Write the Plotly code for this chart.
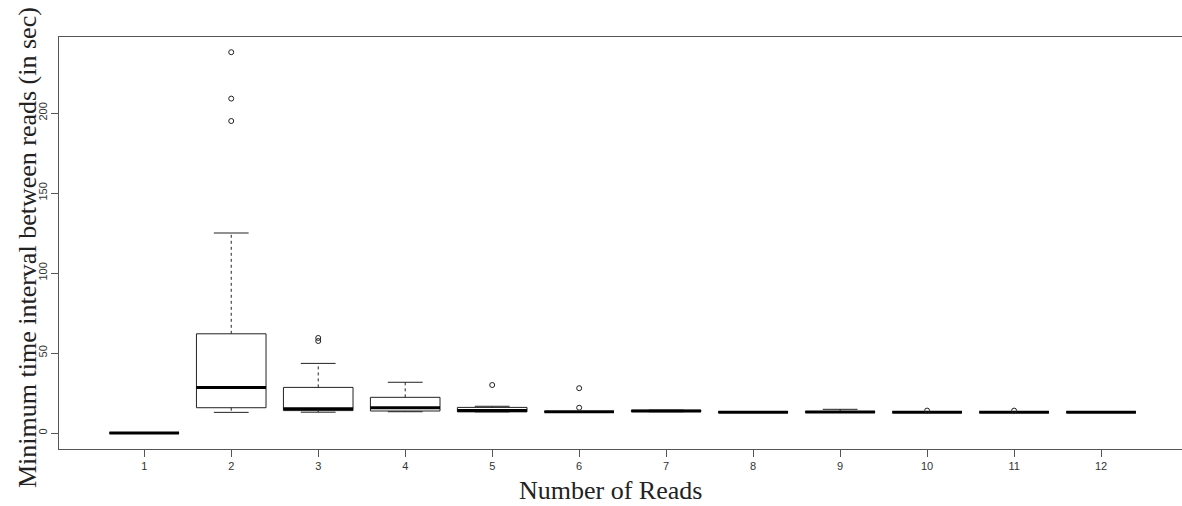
import plotly.graph_objects as go

# ---- data ----
reads = [1, 2, 3, 4, 5, 6, 7, 8, 9, 10, 11, 12]
q1 = [0, 15.8, 14.0, 13.75, 13.2, 13.3, 13.4, 13.0, 13.0, 13.0, 13.0, 13.0]
median = [0, 28.5, 15.2, 15.8, 14.0, 13.3, 13.8, 13.0, 13.2, 13.0, 13.0, 13.0]
q3 = [0, 62.0, 28.5, 22.3, 16.0, 13.3, 14.2, 13.3, 13.4, 13.0, 13.0, 13.0]
lower_whisker = [0, 12.9, 13.0, 13.3, 13.2, 13.3, 13.3, 13.0, 13.0, 13.0, 13.0, 13.0]
upper_whisker = [0, 125.0, 43.5, 31.7, 16.7, 13.3, 14.3, 13.3, 14.8, 13.0, 13.0, 13.0]
outlier_x = [2, 2, 2, 3, 3, 5, 6, 6, 10, 11]
outlier_y = [238, 209, 195, 59.4, 57.5, 30, 28, 15.8, 14.0, 14.0]

x_title = "Number of Reads"
y_title = "Minimum time interval between reads (in sec)"
y_ticks = [0, 50, 100, 150, 200]

BOXW = 0.8
STAPLE = BOXW * 0.25
INK = "#222222"
AXIS = "#555555"

fig = go.Figure()

# box bodies
fig.add_trace(go.Box(
    x=reads, q1=q1, median=median, q3=q3,
    lowerfence=q1, upperfence=q3,
    width=BOXW, whiskerwidth=0,
    fillcolor="rgba(255,255,255,0)",
    line=dict(color=INK, width=1),
    boxpoints=False, hoverinfo="skip", showlegend=False,
))

# whiskers (dashed), staples and medians
wx, wy, sx, sy, mx, my = [], [], [], [], [], []
for i, r in enumerate(reads):
    wx += [r, r, None, r, r, None]
    wy += [q3[i], upper_whisker[i], None, q1[i], lower_whisker[i], None]
    sx += [r - STAPLE, r + STAPLE, None, r - STAPLE, r + STAPLE, None]
    sy += [upper_whisker[i], upper_whisker[i], None, lower_whisker[i], lower_whisker[i], None]
    mx += [r - BOXW / 2, r + BOXW / 2, None]
    my += [median[i], median[i], None]

fig.add_trace(go.Scatter(x=wx, y=wy, mode="lines", line=dict(color=INK, width=1, dash="3px,3px"),
                         hoverinfo="skip", showlegend=False))
fig.add_trace(go.Scatter(x=sx, y=sy, mode="lines", line=dict(color=INK, width=1),
                         hoverinfo="skip", showlegend=False))
fig.add_trace(go.Scatter(x=mx, y=my, mode="lines", line=dict(color="#000000", width=3),
                         hoverinfo="skip", showlegend=False))
fig.add_trace(go.Scatter(x=outlier_x, y=outlier_y, mode="markers",
                         marker=dict(symbol="circle-open", size=5, color=INK, line=dict(width=1)),
                         hoverinfo="skip", showlegend=False))

W, H = 1182, 506
L, R, T, B = 59, 0, 37, 57
pw, ph = W - L - R, H - T - B

fig.update_layout(
    width=W, height=H,
    margin=dict(l=L, r=R, t=T, b=B),
    paper_bgcolor="white", plot_bgcolor="white",
    showlegend=False,
    xaxis=dict(range=[0.02, 12.93], tickvals=reads, ticktext=[str(r) for r in reads],
               showgrid=False, zeroline=False, showline=True, linecolor=AXIS, linewidth=1,
               mirror=True, ticks="outside", ticklen=7, tickcolor=AXIS,
               tickfont=dict(family="Liberation Sans, Arial", size=11, color="#333333")),
    yaxis=dict(range=[-10, 247.5], tickvals=y_ticks, ticktext=[str(v) for v in y_ticks],
               showgrid=False, zeroline=False, showline=True, linecolor=AXIS, linewidth=1,
               ticks="outside", ticklen=7, tickcolor=AXIS, tickangle=-90,
               tickfont=dict(family="Liberation Sans, Arial", size=11, color="#333333")),
    annotations=[
        dict(text=x_title, xref="paper", yref="paper",
             x=(610 - L) / pw, y=(H - B - 490) / ph, xanchor="center", yanchor="middle",
             showarrow=False, borderpad=0,
             font=dict(family="Liberation Serif", size=26, color="#222222")),
        dict(text=y_title, xref="paper", yref="paper", textangle=-90,
             x=(27 - L) / pw, y=(H - B - 248) / ph, xanchor="center", yanchor="middle",
             showarrow=False, borderpad=0,
             font=dict(family="Liberation Serif", size=26, color="#222222")),
    ],
)

fig.write_html("out.html")
